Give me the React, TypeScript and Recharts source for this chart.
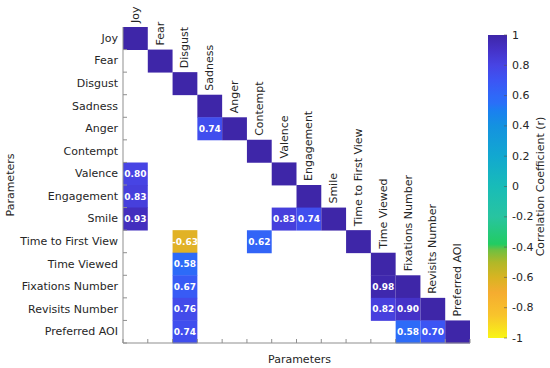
import React from 'react';
import { BarChart, Bar, XAxis, YAxis, Cell, LabelList } from 'recharts';

const parameters = [
  'Joy', 'Fear', 'Disgust', 'Sadness', 'Anger', 'Contempt', 'Valence', 'Engagement',
  'Smile', 'Time to First View', 'Time Viewed', 'Fixations Number', 'Revisits Number', 'Preferred AOI',
];

// lower-triangle correlation rows (null = not shown)
const rowJoy = [1];
const rowFear = [null, 1];
const rowDisgust = [null, null, 1];
const rowSadness = [null, null, null, 1];
const rowAnger = [null, null, null, 0.74, 1];
const rowContempt = [null, null, null, null, null, 1];
const rowValence = [0.8, null, null, null, null, null, 1];
const rowEngagement = [0.83, null, null, null, null, null, null, 1];
const rowSmile = [0.93, null, null, null, null, null, 0.83, 0.74, 1];
const rowTimeToFirstView = [null, null, -0.63, null, null, 0.62, null, null, null, 1];
const rowTimeViewed = [null, null, 0.58, null, null, null, null, null, null, null, 1];
const rowFixationsNumber = [null, null, 0.67, null, null, null, null, null, null, null, 0.98, 1];
const rowRevisitsNumber = [null, null, 0.76, null, null, null, null, null, null, null, 0.82, 0.9, 1];
const rowPreferredAOI = [null, null, 0.74, null, null, null, null, null, null, null, null, 0.58, 0.7, 1];

const colorbarTicks = [1, 0.8, 0.6, 0.4, 0.2, 0, -0.2, -0.4, -0.6, -0.8, -1];
const gridTicks = [0, 1, 2, 3, 4, 5, 6, 7, 8, 9, 10, 11, 12, 13, 14];

const allRows: (number | null)[][] = [
  rowJoy, rowFear, rowDisgust, rowSadness, rowAnger, rowContempt, rowValence, rowEngagement,
  rowSmile, rowTimeToFirstView, rowTimeViewed, rowFixationsNumber, rowRevisitsNumber, rowPreferredAOI,
];

// colormap stops (value -> colour), reversed parula-like
const stops: [number, string][] = [
  [1.0, '#3e26a8'], [0.9, '#4532c8'], [0.8, '#4744e4'], [0.7, '#3c55f4'], [0.6, '#2f68f8'],
  [0.55, '#2a6ff8'], [0.5, '#1a80f0'], [0.4, '#1492e0'], [0.2, '#12a8d0'], [0.0, '#18bcb8'],
  [-0.2, '#28c4a0'], [-0.38, '#22cc62'], [-0.42, '#70c040'], [-0.5, '#b0b828'], [-0.6, '#d8b422'],
  [-0.7, '#f5ac30'], [-0.85, '#f8c42c'], [-1.0, '#f9f515'],
];

const hex = (h: string) => [1, 3, 5].map((i) => parseInt(h.slice(i, i + 2), 16));
const colorOf = (v: number) => {
  for (let i = 0; i < stops.length - 1; i++) {
    const [v0, c0] = stops[i];
    const [v1, c1] = stops[i + 1];
    if (v <= v0 && v >= v1) {
      const t = (v0 - v) / (v0 - v1);
      const a = hex(c0);
      const b = hex(c1);
      const m = a.map((x, k) => Math.round(x + (b[k] - x) * t));
      return `rgb(${m[0]},${m[1]},${m[2]})`;
    }
  }
  return stops[stops.length - 1][1];
};

const N = parameters.length;
const table = parameters.map((name, r) => {
  const o: any = { name };
  for (let c = 0; c < N; c++) {
    o['s' + c] = 1;
    const v = allRows[r][c];
    o['v' + c] = v === undefined ? null : v;
  }
  return o;
});

const FONT = 'DejaVu Sans, Verdana, sans-serif';
const TXT = '#262626';
const AX = '#8f8f8f';

const LeftTick = (p: any) => {
  const { x, y, payload } = p;
  const off = payload && payload.offset ? payload.offset : 0;
  return (
    <g>
      <text x={x} y={y} textAnchor="end" dominantBaseline="central" fontSize={11} fontFamily={FONT} fill={TXT}>
        {payload.value}
      </text>
      <line x1={x + 5} x2={x + 9} y1={y + off} y2={y + off} stroke={AX} />
    </g>
  );
};
const BottomTick = (p: any) => <line x1={p.x} x2={p.x} y1={p.y} y2={p.y - 4} stroke={AX} />;
const TopTick = (p: any) => <line x1={p.x} x2={p.x} y1={p.y} y2={p.y + 4} stroke={AX} />;
const RightTick = (p: any) => <line x1={p.x} x2={p.x - 4} y1={p.y} y2={p.y} stroke={AX} />;

const CbTick = (p: any) => {
  const { x, y, payload } = p;
  const v = Number(Number(payload.value).toFixed(1));
  return (
    <g>
      <line x1={x - 3} x2={x} y1={y} y2={y} stroke="#555" strokeOpacity={0.6} />
      <text x={x + 5} y={y} dominantBaseline="central" fontSize={11} fontFamily={FONT} fill={TXT}>
        {String(v)}
      </text>
    </g>
  );
};

const cellLabel = (col: number) => (p: any) => {
  const vb = p.viewBox || {};
  const x = p.x !== undefined ? Number(p.x) : vb.x;
  const y = p.y !== undefined ? Number(p.y) : vb.y;
  const w = p.width !== undefined ? Number(p.width) : vb.width;
  const h = p.height !== undefined ? Number(p.height) : vb.height;
  const idx = p.index;
  const value = p.value;
  if (idx === col) {
    const cx = x + w / 2;
    const ty = y - 4;
    return (
      <text
        x={cx}
        y={ty}
        transform={`rotate(-90, ${cx}, ${ty})`}
        textAnchor="start"
        dominantBaseline="central"
        fontSize={11}
        fontFamily={FONT}
        fill={TXT}
      >
        {parameters[col]}
      </text>
    );
  }
  if (value === null || value === undefined) return null;
  return (
    <text
      x={x + w / 2}
      y={y + h / 2}
      textAnchor="middle"
      dominantBaseline="central"
      fontSize={9}
      fontWeight="bold"
      fontFamily={FONT}
      fill="#ffffff"
    >
      {Number(value).toFixed(2)}
    </text>
  );
};

const YTitle = (p: any) => {
  const vb = p.viewBox;
  const x = vb.x + 10;
  const y = vb.y + vb.height / 2;
  return (
    <text x={x} y={y} transform={`rotate(-90, ${x}, ${y})`} textAnchor="middle" dominantBaseline="central" fontSize={11} fontFamily={FONT} fill={TXT}>
      Parameters
    </text>
  );
};
const XTitle = (p: any) => {
  const vb = p.viewBox;
  return (
    <text x={vb.x + vb.width / 2 + 3} y={vb.y + 20} textAnchor="middle" fontSize={11} fontFamily={FONT} fill={TXT}>
      Parameters
    </text>
  );
};
const CbTitle = (p: any) => {
  const vb = p.viewBox;
  const x = 540 - 488;
  const y = vb.y + vb.height / 2;
  return (
    <text x={x} y={y} transform={`rotate(-90, ${x}, ${y})`} textAnchor="middle" dominantBaseline="central" fontSize={11} fontFamily={FONT} fill={TXT}>
      Correlation Coefficient (r)
    </text>
  );
};

const cbData = [{ name: 'cb', range: [-1, 1] }];

export default function App() {
  return (
    <div style={{ position: 'absolute', left: 0, top: 0, width: 550, height: 368, background: '#fff' }}>
      <div style={{ position: 'absolute', left: 0, top: 0 }}>
        <BarChart
          width={550}
          height={368}
          data={table}
          layout="vertical"
          barCategoryGap={0}
          barGap={0}
          margin={{ top: 27, right: 80, bottom: 0, left: 0 }}
        >
          <XAxis
            type="number"
            domain={[0, 14]}
            ticks={gridTicks}
            allowDataOverflow
            height={25}
            tickSize={0}
            tickMargin={0}
            tickLine={false}
            tick={BottomTick}
            axisLine={{ stroke: AX }}
            label={{ content: XTitle }}
          />
          <XAxis
            xAxisId="top"
            orientation="top"
            type="number"
            domain={[0, 14]}
            ticks={gridTicks}
            allowDataOverflow
            height={0}
            tickSize={0}
            tickMargin={0}
            tickLine={false}
            tick={TopTick}
            axisLine={{ stroke: AX }}
          />
          <YAxis
            type="category"
            dataKey="name"
            width={123}
            tickSize={0}
            tickMargin={5}
            tickLine={false}
            tick={LeftTick}
            interval={0}
            axisLine={{ stroke: AX }}
            label={{ content: YTitle }}
          />
          <YAxis
            yAxisId="right"
            orientation="right"
            type="number"
            domain={[0, 14]}
            ticks={gridTicks}
            allowDataOverflow
            width={0}
            tickSize={0}
            tickMargin={0}
            tickLine={false}
            tick={RightTick}
            axisLine={{ stroke: AX }}
          />
          {parameters.map((_, c) => (
            <Bar key={c} dataKey={'s' + c} stackId="m" isAnimationActive={false}>
              {table.map((row: any, r: number) => (
                <Cell key={r} fill={row['v' + c] === null ? 'transparent' : colorOf(row['v' + c])} />
              ))}
              <LabelList dataKey={'v' + c} content={cellLabel(c)} />
            </Bar>
          ))}
        </BarChart>
      </div>
      <div style={{ position: 'absolute', left: 488, top: 0 }}>
        <BarChart width={62} height={368} data={cbData} barCategoryGap={0} margin={{ top: 35, right: 0, bottom: 30, left: 0 }}>
          <defs>
            <linearGradient id="cbGrad" x1="0" y1="0" x2="0" y2="1">
              {stops.map(([v, c], i) => (
                <stop key={i} offset={`${((1 - v) / 2) * 100}%`} stopColor={c} />
              ))}
            </linearGradient>
          </defs>
          <XAxis dataKey="name" hide />
          <YAxis
            orientation="right"
            type="number"
            domain={[-1, 1]}
            ticks={colorbarTicks}
            width={43}
            tickSize={0}
            tickMargin={0}
            tickLine={false}
            axisLine={false}
            tick={CbTick}
            interval={0}
            label={{ content: CbTitle }}
          />
          <Bar dataKey="range" fill="url(#cbGrad)" isAnimationActive={false} />
        </BarChart>
      </div>
    </div>
  );
}
